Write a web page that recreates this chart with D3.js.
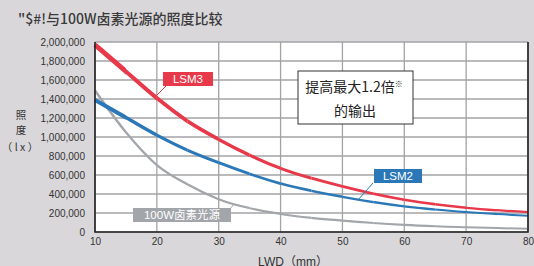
<!DOCTYPE html>
<html>
<head>
<meta charset="utf-8">
<script src="https://cdn.jsdelivr.net/npm/d3@7"></script>
<style>
  body { margin: 0; background: #d9d7da; }
  svg { display: block; }
  .tick text { font-family: "Liberation Sans", Arial, sans-serif; font-size: 10px; fill: #333; }
</style>
</head>
<body>
<div id="chart"></div>
<script>
var lwd = [10, 15, 20, 25, 30, 40, 50, 60, 70, 80];
var lsm3 = [1970000, 1690000, 1410000, 1165000, 975000, 670000, 480000, 340000, 255000, 210000];
var lsm2 = [1390000, 1205000, 1020000, 860000, 730000, 510000, 370000, 270000, 210000, 170000];
var halogen = [1490000, 1050000, 705000, 500000, 345000, 190000, 120000, 75000, 50000, 33000];
var xTicks = [10, 20, 30, 40, 50, 60, 70, 80];
var yTicks = [0, 200000, 400000, 600000, 800000, 1000000, 1200000, 1400000, 1600000, 1800000, 2000000];

var width = 534, height = 266;
var margin = {left: 95, right: 6, top: 42, bottom: 34};

var x = d3.scaleLinear().domain([10, 80]).range([margin.left, width - margin.right]);
var y = d3.scaleLinear().domain([0, 2000000]).range([height - margin.bottom, margin.top]);

var svg = d3.select("#chart").append("svg").attr("width", width).attr("height", height);

// title
svg.append("text")
    .attr("x", 18).attr("y", 24)
    .attr("font-family", "Noto Sans CJK SC")
    .attr("font-size", 14)
    .attr("font-weight", 500)
    .attr("fill", "#3a3a3a")
    .text("\"$#!与100W卤素光源的照度比较");

// plot background
svg.append("rect")
    .attr("x", x(10)).attr("y", y(2000000))
    .attr("width", x(80) - x(10)).attr("height", y(0) - y(2000000))
    .attr("fill", "#fff");

// grid
svg.append("g").selectAll("line").data(yTicks).join("line")
    .attr("x1", x(10)).attr("x2", x(80))
    .attr("y1", d => y(d)).attr("y2", d => y(d))
    .attr("stroke", "#a3a3a6").attr("stroke-width", 1.3);
svg.append("g").selectAll("line").data(xTicks).join("line")
    .attr("x1", d => x(d)).attr("x2", d => x(d))
    .attr("y1", y(0)).attr("y2", y(2000000))
    .attr("stroke", "#a3a3a6").attr("stroke-width", 1.3);

// axes
var yAxis = d3.axisLeft(y).tickValues(yTicks).tickFormat(d3.format(",")).tickSize(0).tickPadding(10);
svg.append("g").attr("transform", "translate(" + x(10) + ",0)").call(yAxis)
    .call(g => g.select(".domain").remove());
var xAxis = d3.axisBottom(x).tickValues(xTicks).tickSize(0).tickPadding(6);
svg.append("g").attr("transform", "translate(0," + y(0) + ")").call(xAxis)
    .call(g => g.select(".domain").remove());

// curves, thicker on the left, thinner on the right
var line = d3.line()
    .x((d, i) => x(lwd[i]))
    .y(d => y(d))
    .curve(d3.curveMonotoneX);

var defs = svg.append("defs");
var bands = d3.range(10, 80, 5);
bands.forEach(function (b, i) {
    var x0 = i === 0 ? 0 : x(b);
    var x1 = i === bands.length - 1 ? width : x(b + 5);
    defs.append("clipPath").attr("id", "band" + i)
        .append("rect")
        .attr("x", x0).attr("y", 0)
        .attr("width", x1 - x0)
        .attr("height", y(0) - 1);
});

function drawCurve(values, color, w0, w1) {
    var g = svg.append("g");
    bands.forEach(function (b, i) {
        var t = i / (bands.length - 1);
        g.append("path")
            .attr("d", line(values))
            .attr("clip-path", "url(#band" + i + ")")
            .attr("fill", "none")
            .attr("stroke", color)
            .attr("stroke-width", w0 + (w1 - w0) * Math.sqrt(t));
    });
}

drawCurve(halogen, "#a2a5aa", 2.4, 2);
drawCurve(lsm2, "#2b78b8", 4, 2);
drawCurve(lsm3, "#e8394b", 4.8, 2.2);

// frame
svg.append("path")
    .attr("d", "M" + x(10) + "," + y(2000000) + "V" + y(0) + "H" + x(80) + "V" + y(2000000))
    .attr("fill", "none").attr("stroke", "#222").attr("stroke-width", 1.6);

// series labels
function tag(lx, ly, w, text, color, p0, p1) {
    svg.append("line")
        .attr("x1", p0[0]).attr("y1", p0[1]).attr("x2", p1[0]).attr("y2", p1[1])
        .attr("stroke", color).attr("stroke-width", 1);
    svg.append("rect").attr("x", lx).attr("y", ly).attr("width", w).attr("height", 14).attr("fill", color);
    svg.append("text")
        .attr("x", lx + w / 2).attr("y", ly + 11)
        .attr("text-anchor", "middle")
        .attr("font-family", "'Liberation Sans', 'Noto Sans CJK SC', sans-serif")
        .attr("font-size", 11.5)
        .attr("fill", "#fff")
        .text(text);
}
tag(163, 72, 50, "LSM3", "#e8394b", [166, 86], [155, 97]);
tag(374, 169, 48, "LSM2", "#2b78b8", [373, 183], [358, 200]);
tag(133, 208, 98, "100W卤素光源", "#a2a5aa", [230, 209], [234, 204]);

// note box
svg.append("rect")
    .attr("x", 298).attr("y", 71).attr("width", 115).attr("height", 53)
    .attr("fill", "#fff").attr("stroke", "#333").attr("stroke-width", 1);
var note = svg.append("text")
    .attr("x", 354).attr("y", 92)
    .attr("text-anchor", "middle")
    .attr("font-family", "Noto Sans CJK SC")
    .attr("font-size", 14)
    .attr("fill", "#222");
note.append("tspan").text("提高最大1.2倍");
note.append("tspan").attr("font-size", 8).attr("dy", -5).text("※");
svg.append("text")
    .attr("x", 355).attr("y", 116)
    .attr("text-anchor", "middle")
    .attr("font-family", "Noto Sans CJK SC")
    .attr("font-size", 14)
    .attr("fill", "#222")
    .text("的输出");

// axis titles
var yt = svg.append("g")
    .attr("font-family", "Noto Sans CJK SC")
    .attr("font-size", 10.5)
    .attr("fill", "#333")
    .attr("text-anchor", "middle");
yt.append("text").attr("x", 21).attr("y", 119).text("照");
yt.append("text").attr("x", 21).attr("y", 134).text("度");
yt.append("text").attr("x", 20).attr("y", 151).text("（ l x ）");

svg.append("text")
    .attr("x", 293).attr("y", 266)
    .attr("text-anchor", "middle")
    .attr("font-family", "'Liberation Sans', 'Noto Sans CJK SC', sans-serif")
    .attr("font-size", 12)
    .attr("fill", "#333")
    .text("LWD（mm）");
</script>
</body>
</html>
